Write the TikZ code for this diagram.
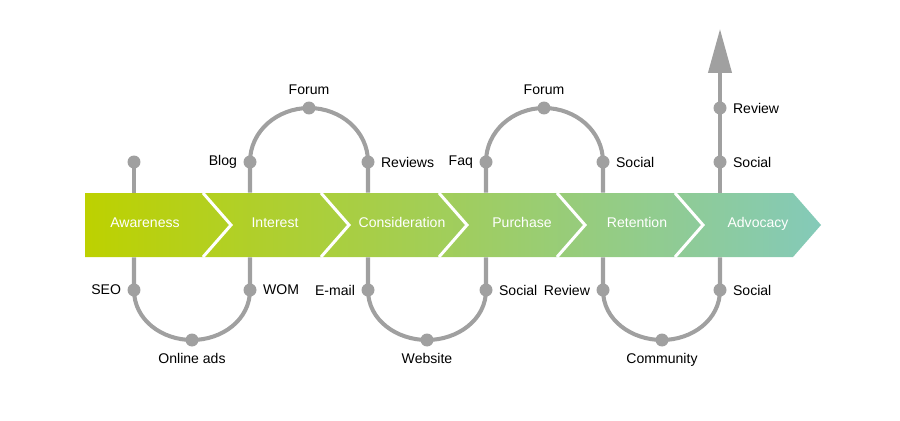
\documentclass[tikz,border=0pt]{standalone}
\usepackage{fontspec}
\setmainfont{Liberation Sans}
\usepackage{tikz}
\usetikzlibrary{arrows.meta, calc}
\definecolor{stagestart}{HTML}{BDD100}
\definecolor{stageend}{HTML}{84CAB9}
\definecolor{routegray}{HTML}{A0A0A0}

\begin{document}
\begin{tikzpicture}[x=0.02cm, y=0.02cm, font=\fontsize{8}{10}\selectfont,
  dot/.style={circle, fill=routegray, inner sep=0pt, minimum size=0.26cm},
  stage/.style={text=white, minimum height=1.28cm, inner sep=0pt, text height=1.6ex, text depth=0.2ex},
  route/.style={routegray, line width=2.3pt}]
\useasboundingbox (0,0) rectangle (900,420);
% chevron band
\shade[left color=stagestart, right color=stageend] (85,163) -- (85,227) -- (793,227) -- (821,195) -- (793,163) -- cycle;
\foreach \x in {203,321,439,557,675} {
  \draw[white, line width=1.7pt] (\x,227) -- (\x+28,195) -- (\x,163);
}
\node[stage] (awareness) at (145,195) {\raisebox{2pt}{Awareness}};
\node[stage] (interest) at (275,195) {\raisebox{2pt}{Interest}};
\node[stage] (consideration) at (402,195) {\raisebox{2pt}{Consideration}};
\node[stage] (purchase) at (522,195) {\raisebox{2pt}{Purchase}};
\node[stage] (retention) at (637,195) {\raisebox{2pt}{Retention}};
\node[stage] (advocacy) at (758,195) {\raisebox{2pt}{Advocacy}};

% touchpoints above
\node[dot] (start) at (134,258) {};
\node[dot, label=left:Blog] (blog) at (250,258) {};
\node[dot, label=above:Forum] (forumA) at (309,312) {};
\node[dot, label=right:Reviews] (reviews) at (368,258) {};
\node[dot, label=left:Faq] (faq) at (486,258) {};
\node[dot, label=above:Forum] (forumB) at (544,312) {};
\node[dot, label distance=2.5pt, label=right:Social] (socialA) at (603,258) {};
\node[dot, label distance=2.5pt, label=right:Social] (socialB) at (720,258) {};
\node[dot, label=right:Review] (review) at (720,312) {};
\coordinate (tip) at (720,391);

% touchpoints below
\node[dot, label=left:SEO] (seo) at (134,130) {};
\node[dot, label=below:Online ads] (ads) at (192,80) {};
\node[dot, label distance=-1pt, label=right:WOM] (wom) at (250,130) {};
\node[dot, label distance=2.5pt, label=left:E-mail] (email) at (368,130) {};
\node[dot, label=below:Website] (website) at (427,80) {};
\node[dot, label=right:Social] (socialC) at (486,130) {};
\node[dot, label=left:Review] (reviewB) at (603,130) {};
\node[dot, label=below:Community] (community) at (662,80) {};
\node[dot, label distance=2.5pt, label=right:Social] (socialD) at (720,130) {};

% routes
\draw[route] (start.center) -- (start |- awareness.north);
\draw[route] (seo |- awareness.south) -- (seo.center) to[out=-90, in=180] (ads.center) to[out=0, in=-90] (wom.center) -- (wom |- interest.south);
\draw[route] (blog |- interest.north) -- (blog.center) to[out=90, in=180] (forumA.center) to[out=0, in=90] (reviews.center) -- (reviews |- consideration.north);
\draw[route] (email |- consideration.south) -- (email.center) to[out=-90, in=180] (website.center) to[out=0, in=-90] (socialC.center) -- (socialC |- purchase.south);
\draw[route] (faq |- purchase.north) -- (faq.center) to[out=90, in=180] (forumB.center) to[out=0, in=90] (socialA.center) -- (socialA |- retention.north);
\draw[route] (reviewB |- retention.south) -- (reviewB.center) to[out=-90, in=180] (community.center) to[out=0, in=-90] (socialD.center) -- (socialD |- advocacy.south);
\draw[route, -{Triangle[width=0.46cm, length=0.88cm]}] (socialB |- advocacy.north) -- (tip);
\end{tikzpicture}
\end{document}
